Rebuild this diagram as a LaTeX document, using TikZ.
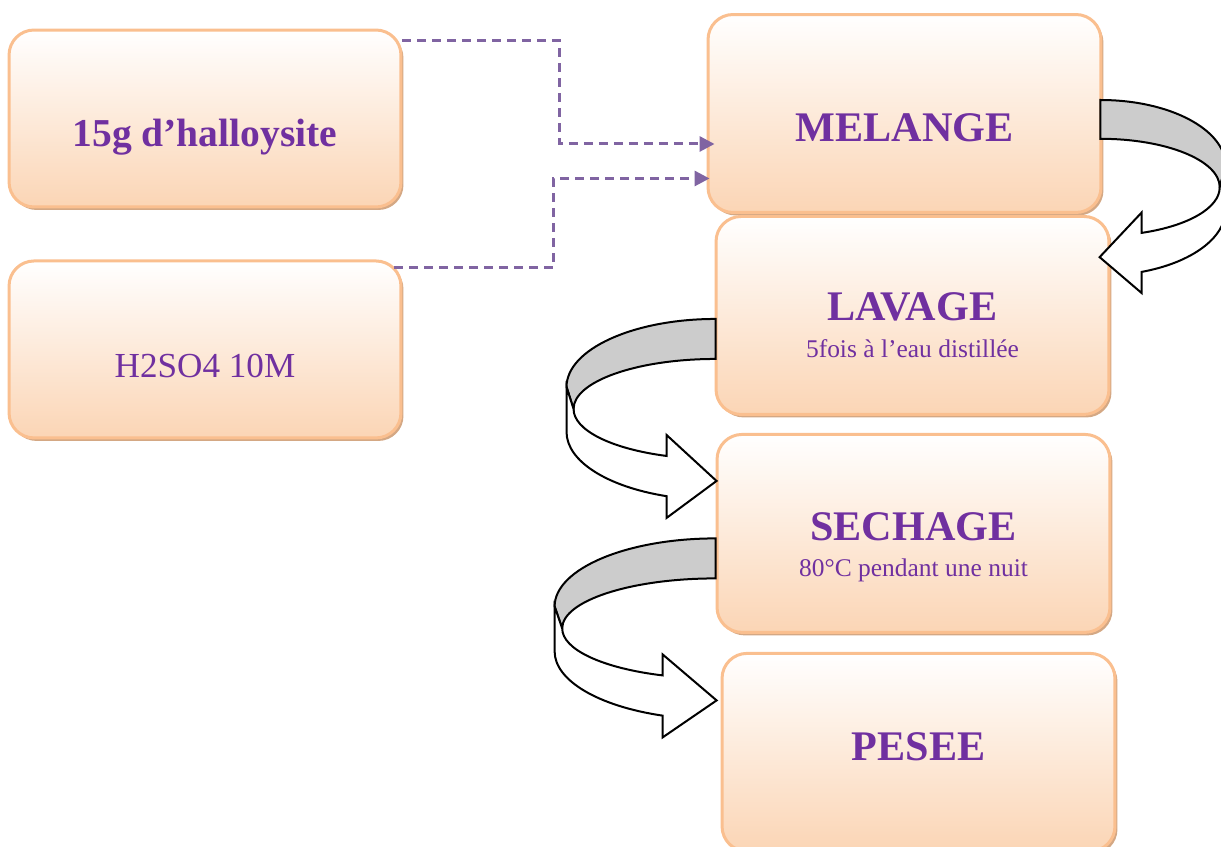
\documentclass[tikz,border=0pt]{standalone}
\usepackage{fontspec}
\setmainfont{Liberation Serif}
\usetikzlibrary{arrows.meta, positioning, shadows}
\definecolor{peche}{RGB}{251,213,181}
\definecolor{bordpeche}{RGB}{250,191,143}
\definecolor{ombre}{RGB}{212,168,132}
\definecolor{violettexte}{RGB}{112,48,160}
\definecolor{violettrait}{RGB}{128,100,162}

\begin{document}
\begin{tikzpicture}[
        x=0.02cm, y=-0.02cm,
        boite/.style={draw=bordpeche, line width=0.06cm, rounded corners=0.5cm,
                      top color=white, middle color=peche!45, bottom color=peche,
                      minimum width=7.86cm, minimum height=3.96cm, inner sep=0pt,
                      drop shadow={shadow xshift=0.05cm, shadow yshift=-0.06cm,
                                   fill=ombre, opacity=1}},
        titre/.style={text=violettexte, anchor=base,
                      font=\fontsize{24}{28}\selectfont\bfseries},
        soustitre/.style={text=violettexte, anchor=base,
                          font=\fontsize{14.5}{17}\selectfont},
        fleche/.style={draw=violettrait, line width=0.06cm,
                       dash pattern=on 0.18cm off 0.12cm,
                       -{Triangle[length=0.3cm, width=0.3cm]}},
        bande/.style={draw=black, line width=0.04cm, line join=miter},
        retour/.pic={
            \filldraw[bande, fill=gray!40]
                (0,0) arc[start angle=-90, end angle=-180, x radius=149, y radius=68]
                -- (-142,90) arc[start angle=180, end angle=270, x radius=142, y radius=50]
                -- cycle;
            \filldraw[bande, fill=white]
                (-149,68) -- (-149,113)
                arc[start angle=180, end angle=109.2, x radius=149, y radius=68]
                -- (-49,199) -- (1,162) -- (-49,116) -- (-49,137)
                arc[start angle=110.2, end angle=180, x radius=142, y radius=50]
                -- cycle;
        },
        node distance=0.34cm
    ]
    \useasboundingbox (0,0) rectangle (1221,847);

    \node[boite, minimum width=7.84cm, minimum height=3.54cm] (halloysite) at (205,118.5) {};
    \node[boite, minimum width=7.84cm, minimum height=3.54cm, below=1.02cm of halloysite] (acide) {};
    \node[boite] (melange) at (904.5,113.5) {};
    \node[boite, below=0.02cm of melange, xshift=0.16cm] (lavage) {};
    \node[boite, below=of lavage, xshift=0.02cm] (sechage) {};
    \node[boite, below=0.36cm of sechage, xshift=0.1cm] (pesee) {};

    \node[titre, font=\fontsize{22.5}{27}\selectfont\bfseries] (halloysite-t)
        at ([yshift=-0.57cm]halloysite.center) {15g d’halloysite};
    \node[titre, font=\fontsize{20}{24}\selectfont] (acide-t)
        at ([yshift=-0.57cm]acide.center) {H2SO4 10M};
    \node[titre] (melange-t) at ([yshift=-0.57cm]melange.center) {MELANGE};
    \node[titre] (lavage-t) at ([yshift=-0.11cm]lavage.center) {LAVAGE};
    \node[soustitre] (lavage-s) at ([yshift=-0.85cm]lavage.center) {5fois à l’eau distillée};
    \node[titre] (sechage-t) at ([yshift=-0.14cm]sechage.center) {SECHAGE};
    \node[soustitre] (sechage-s) at ([yshift=-0.86cm]sechage.center) {80°C pendant une nuit};
    \node[titre] (pesee-t) at ([yshift=-0.16cm]pesee.center) {PESEE};

    \draw[fleche] ([yshift=-0.24cm]halloysite.north east) -- ++(157,0)
        |- ([xshift=0.16cm, yshift=-0.61cm]melange.west);
    \draw[fleche] ([xshift=-0.16cm, yshift=-0.16cm]acide.north east) -- ++(159,0)
        |- ([xshift=0.06cm, yshift=-1.3cm]melange.west);

    \pic[xscale=-0.84, yscale=0.97] (retour-melange)
        at ([xshift=-0.04cm, yshift=0.27cm]melange.east) {retour};
    \pic (retour-lavage) at ([xshift=0.02cm, yshift=-0.07cm]lavage.west) {retour};
    \pic[xscale=1.08] (retour-sechage) at ([yshift=-0.1cm]sechage.west) {retour};
\end{tikzpicture}
\end{document}
